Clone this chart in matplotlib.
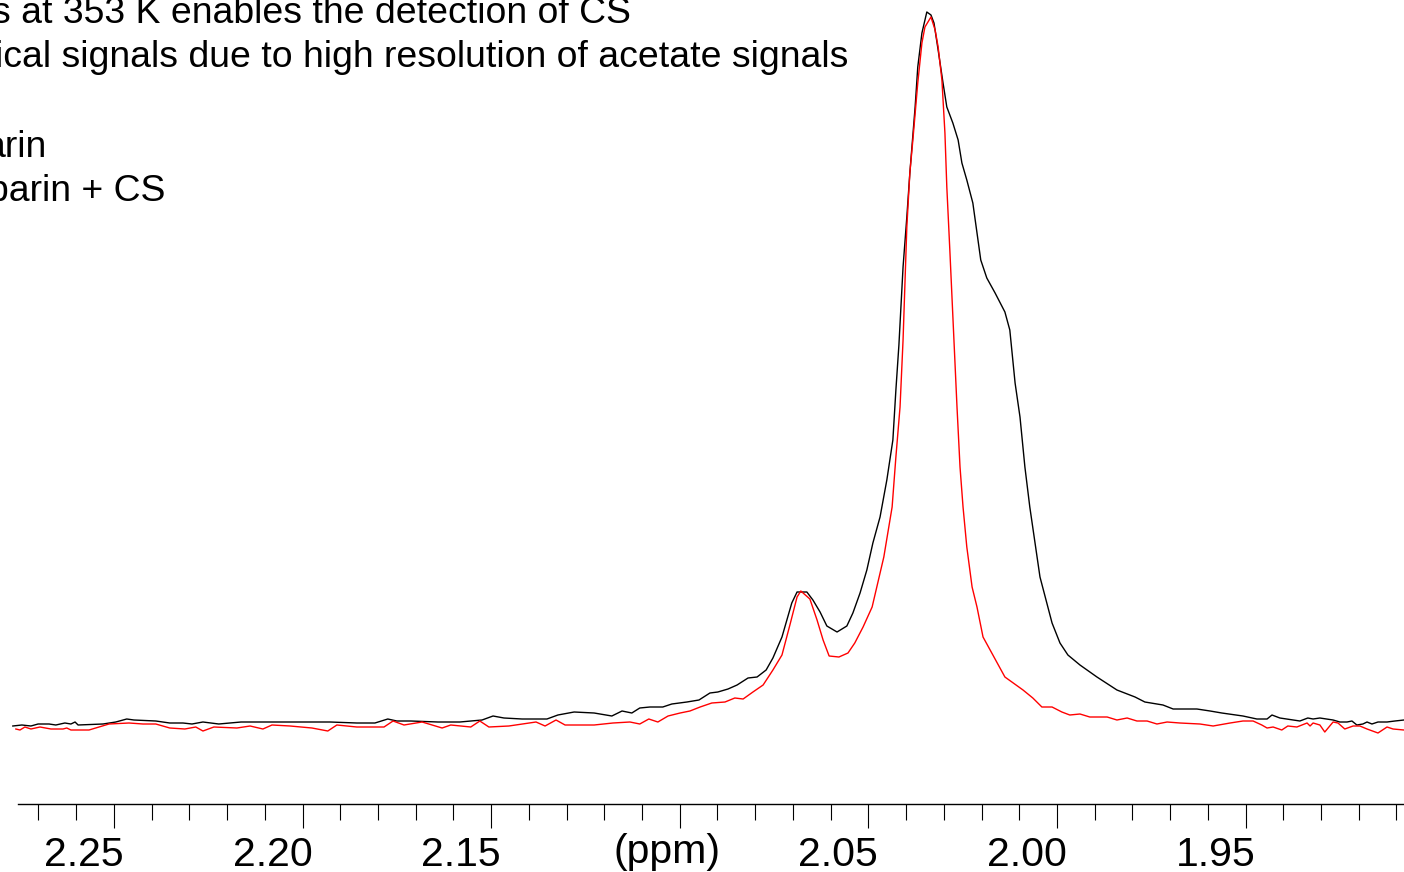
import matplotlib
matplotlib.use("Agg")
from matplotlib import pyplot as plt
from matplotlib.ticker import FixedLocator, FixedFormatter
from matplotlib.transforms import ScaledTranslation

plt.rcParams['font.family'] = ['Liberation Sans', 'DejaVu Sans']

# chemical shift (ppm) / intensity (a.u.)
heparin_ppm = [
    2.2768, 2.2744, 2.2720, 2.2701, 2.2672, 2.2654, 2.2630, 2.2614, 2.2603, 2.2595,
    2.2529, 2.2495, 2.2466, 2.2447, 2.2389, 2.2352, 2.2317, 2.2293, 2.2264, 2.2222,
    2.2163, 2.2092, 2.1975, 2.1927, 2.1856, 2.1808, 2.1774, 2.1750, 2.1713, 2.1641,
    2.1583, 2.1524, 2.1495, 2.1466, 2.1418, 2.1352, 2.1323, 2.1280, 2.1227, 2.1180,
    2.1153, 2.1127, 2.1106, 2.1079, 2.1045, 2.1021, 2.0981, 2.0949, 2.0920, 2.0899,
    2.0872, 2.0848, 2.0819, 2.0795, 2.0771, 2.0753, 2.0729, 2.0716, 2.0703, 2.0689,
    2.0663, 2.0647, 2.0628, 2.0610, 2.0583, 2.0557, 2.0541, 2.0522, 2.0504, 2.0488,
    2.0469, 2.0451, 2.0435, 2.0427, 2.0419, 2.0408, 2.0398, 2.0390, 2.0376, 2.0369,
    2.0358, 2.0345, 2.0334, 2.0326, 2.0315, 2.0302, 2.0292, 2.0276, 2.0262, 2.0252,
    2.0239, 2.0223, 2.0212, 2.0202, 2.0186, 2.0164, 2.0138, 2.0125, 2.0111, 2.0098,
    2.0085, 2.0072, 2.0058, 2.0045, 2.0027, 2.0013, 1.9992, 1.9971, 1.9939, 1.9894,
    1.9841, 1.9793, 1.9767, 1.9719, 1.9692, 1.9629, 1.9594, 1.9563, 1.9507, 1.9470,
    1.9443, 1.9430, 1.9409, 1.9356, 1.9335, 1.9321, 1.9303, 1.9268, 1.9250, 1.9231,
    1.9218, 1.9205, 1.9189, 1.9178, 1.9165, 1.9149, 1.9125, 1.9104, 1.9080,
]
heparin_int = [
    14, 15, 14, 16, 16, 15, 17, 16, 18, 15,
    16, 18, 21, 20, 19, 17, 17, 16, 18, 16,
    18, 18, 18, 18, 17, 17, 21, 19, 19, 18,
    18, 20, 24, 22, 21, 21, 25, 28, 27, 24,
    29, 27, 32, 33, 33, 36, 38, 40, 47, 48,
    51, 55, 62, 63, 70, 82, 103, 120, 137, 148,
    148, 140, 128, 114, 108, 114, 127, 147, 170, 197,
    223, 260, 300, 350, 395, 473, 523, 567, 633, 673,
    707, 728, 725, 717, 690, 657, 633, 617, 600, 577,
    560, 537, 507, 480, 462, 447, 428, 410, 357, 323,
    273, 233, 197, 163, 137, 117, 97, 85, 75, 63,
    50, 43, 38, 35, 31, 31, 29, 27, 24, 21,
    21, 25, 22, 19, 22, 21, 22, 20, 18, 18,
    19, 15, 16, 18, 16, 18, 18, 19, 20,
]

heparin_cs_ppm = [
    2.2760, 2.2749, 2.2736, 2.2720, 2.2696, 2.2667, 2.2635, 2.2625, 2.2614, 2.2566,
    2.2513, 2.2460, 2.2423, 2.2389, 2.2352, 2.2312, 2.2283, 2.2264, 2.2235, 2.2174,
    2.2139, 2.2105, 2.2081, 2.2033, 2.1975, 2.1933, 2.1909, 2.1856, 2.1784, 2.1760,
    2.1731, 2.1683, 2.1630, 2.1607, 2.1554, 2.1530, 2.1506, 2.1453, 2.1381, 2.1357,
    2.1328, 2.1304, 2.1227, 2.1177, 2.1132, 2.1106, 2.1082, 2.1058, 2.1031, 2.0999,
    2.0973, 2.0946, 2.0915, 2.0880, 2.0854, 2.0832, 2.0806, 2.0779, 2.0753, 2.0729,
    2.0708, 2.0689, 2.0679, 2.0655, 2.0636, 2.0620, 2.0604, 2.0578, 2.0554, 2.0536,
    2.0514, 2.0490, 2.0475, 2.0459, 2.0437, 2.0427, 2.0416, 2.0408, 2.0398, 2.0390,
    2.0382, 2.0369, 2.0358, 2.0350, 2.0334, 2.0323, 2.0315, 2.0305, 2.0297, 2.0292,
    2.0284, 2.0273, 2.0265, 2.0257, 2.0249, 2.0239, 2.0225, 2.0212, 2.0196, 2.0170,
    2.0138, 2.0090, 2.0064, 2.0040, 2.0013, 1.9987, 1.9966, 1.9939, 1.9913, 1.9867,
    1.9841, 1.9814, 1.9788, 1.9761, 1.9735, 1.9708, 1.9674, 1.9621, 1.9586, 1.9541,
    1.9507, 1.9480, 1.9457, 1.9443, 1.9427, 1.9404, 1.9388, 1.9364, 1.9337, 1.9329,
    1.9321, 1.9303, 1.9290, 1.9268, 1.9255, 1.9237, 1.9215, 1.9197, 1.9178, 1.9149,
    1.9125, 1.9109, 1.9080,
]
heparin_cs_int = [
    11, 10, 13, 11, 13, 11, 11, 12, 10, 10,
    16, 17, 16, 16, 12, 11, 13, 9, 13, 12,
    14, 11, 15, 14, 12, 9, 15, 13, 13, 19,
    15, 18, 12, 15, 13, 19, 13, 14, 18, 14,
    20, 15, 15, 17, 18, 16, 21, 18, 24, 27,
    29, 33, 37, 38, 42, 41, 48, 55, 70, 85,
    115, 143, 149, 141, 120, 100, 84, 83, 87, 97,
    113, 133, 157, 183, 233, 283, 333, 400, 513, 567,
    600, 657, 697, 713, 723, 710, 693, 660, 607, 553,
    490, 400, 333, 273, 233, 193, 153, 133, 103, 85,
    63, 50, 42, 33, 33, 28, 25, 26, 23, 23,
    20, 22, 19, 19, 16, 18, 17, 16, 14, 17,
    19, 19, 15, 12, 13, 10, 14, 13, 17, 14,
    17, 15, 8, 18, 17, 11, 14, 14, 11, 7,
    13, 11, 10,
]

major_ticks = [2.25, 2.20, 2.15, 2.10, 2.05, 2.00, 1.95]
major_labels = ['2.25', '2.20', '2.15', '', '2.05', '2.00', '1.95']
minor_ticks = [round(2.27 - 0.01 * i, 2) for i in range(37)]
unit_label = '(ppm)'
note_lines = [
    's at 353 K enables the detection of CS',
    'ical signals due to high resolution of acetate signals',
    '',
    'arin',
    'parin + CS',
]


def main():
    fig = plt.figure(figsize=(14.04, 8.72), dpi=100)
    ax = fig.add_axes([0.0, 0.07798, 1.0, 0.92202])

    ax.plot(heparin_ppm, heparin_int, color='black', lw=1.0)
    ax.plot(heparin_cs_ppm, heparin_cs_int, color='#ff0000', lw=1.0)

    ax.set_xlim(2.2802, 1.9080)
    ax.set_ylim(-64, 740)

    for side in ['top', 'left', 'right']:
        ax.spines[side].set_visible(False)
    ax.spines['bottom'].set_bounds(2.2755, 1.9080)
    ax.spines['bottom'].set_linewidth(1.0)
    ax.set_yticks([])

    ax.xaxis.set_major_locator(FixedLocator(major_ticks))
    ax.xaxis.set_major_formatter(FixedFormatter(major_labels))
    ax.xaxis.set_minor_locator(FixedLocator(minor_ticks))
    ax.tick_params(axis='x', which='major', direction='out', length=17.3,
                   width=0.8, labelsize=29.5, pad=6)
    ax.tick_params(axis='x', which='minor', direction='out', length=11.5, width=0.8)

    # labels sit a bit left of their ticks in the original
    shift = ScaledTranslation(-30 / 100, 0, fig.dpi_scale_trans)
    for label in ax.get_xticklabels():
        label.set_transform(label.get_transform() + shift)

    ax.text(2.10, 0, unit_label, fontsize=29.5, ha='center', va='center',
            transform=ax.get_xaxis_transform()
            + ScaledTranslation(-13 / 100, -(852 - 804) / 100, fig.dpi_scale_trans))

    right_edges = [631, 848, 0, 47, 165]
    baselines = [23, 67, 112, 157, 201]
    for text, xr, yb in zip(note_lines, right_edges, baselines):
        if text:
            fig.text(xr / 1404, 1 - yb / 872, text, fontsize=26.9, ha='right', va='baseline')

    fig.savefig('out.png', dpi=100)


if __name__ == "__main__":
    main()
